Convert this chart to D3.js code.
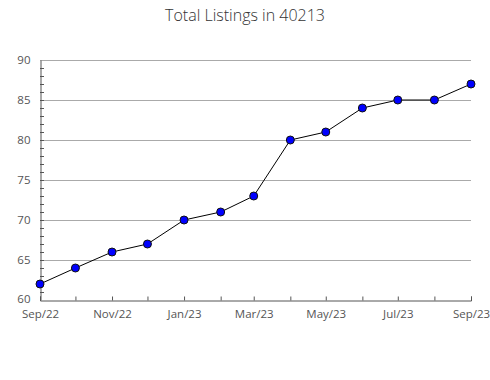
<!DOCTYPE html>
<html>
<head>
<meta charset="utf-8">
<script src="https://cdn.jsdelivr.net/npm/d3@7"></script>
<style>
	body { margin: 0; background: #fff; }
	text { font-family: "Open Sans", "DejaVu Sans", sans-serif; }
</style>
</head>
<body>
<script>
// data
var months = ["2022-09", "2022-10", "2022-11", "2022-12", "2023-01", "2023-02", "2023-03",
	"2023-04", "2023-05", "2023-06", "2023-07", "2023-08", "2023-09"];
var listings = [62, 64, 66, 67, 70, 71, 73, 80, 81, 84, 85, 85, 87];
var yTicks = [60, 65, 70, 75, 80, 85, 90];
var title = "Total Listings in 40213";

var parse = d3.timeParse("%Y-%m");
var data = months.map(function (m, i) { return { date: parse(m), value: listings[i] }; });

var width = 490, height = 380;
var margin = { top: 60, right: 19, bottom: 80, left: 40 };

var svg = d3.select("body").append("svg")
	.attr("width", width)
	.attr("height", height);

var xScale = d3.scaleTime()
	.domain(d3.extent(data, function (d) { return d.date; }))
	.range([margin.left, width - margin.right]);

var yScale = d3.scaleLinear()
	.domain([60, 90])
	.range([height - margin.bottom, margin.top]);

// title
svg.append("text")
	.attr("x", 245)
	.attr("y", 21)
	.attr("text-anchor", "middle")
	.attr("font-size", "16px")
	.attr("font-weight", 300)
	.attr("fill", "#333")
	.text(title);

// gridlines
svg.append("g")
	.selectAll("line")
	.data(yTicks.slice(1))
	.enter()
	.append("line")
	.attr("x1", margin.left)
	.attr("x2", width - margin.right)
	.attr("y1", function (d) { return Math.round(yScale(d)) + 0.5; })
	.attr("y2", function (d) { return Math.round(yScale(d)) + 0.5; })
	.attr("stroke", "#aaa");

// y minor ticks, every unit
svg.append("g")
	.selectAll("line")
	.data(d3.range(61, 90))
	.enter()
	.append("line")
	.attr("x1", margin.left)
	.attr("x2", margin.left + 4)
	.attr("y1", function (d) { return Math.round(yScale(d)) + 0.5; })
	.attr("y2", function (d) { return Math.round(yScale(d)) + 0.5; })
	.attr("stroke", "#555");

// y axis
var yAxis = svg.append("g")
	.attr("transform", "translate(" + (margin.left + 0.5) + ",0)")
	.call(d3.axisLeft(yScale).tickValues(yTicks).tickSize(0).tickPadding(10));
yAxis.select(".domain").attr("stroke", "#555");
yAxis.selectAll("text")
	.attr("font-size", "11.5px")
	.attr("fill", "#555")
	.attr("font-family", "Open Sans, sans-serif");
// bottom label sits a little high so it clears the month labels
yAxis.selectAll(".tick text").filter(function (d) { return d === 60; }).attr("dy", "0.2em");

// x axis, ticks pointing inward
var xAxis = svg.append("g")
	.attr("transform", "translate(0," + (height - margin.bottom + 0.5) + ")")
	.call(d3.axisBottom(xScale)
		.tickValues(data.map(function (d) { return d.date; }))
		.tickSize(-4)
		.tickPadding(9)
		.tickFormat(function (d, i) { return i % 2 === 0 ? d3.timeFormat("%b/%y")(d) : ""; }));
xAxis.select(".domain").attr("stroke", "#555");
xAxis.selectAll(".tick line").attr("stroke", "#555");
xAxis.selectAll("text")
	.attr("font-size", "11.5px")
	.attr("fill", "#555")
	.attr("font-family", "Open Sans, sans-serif");

// line
var line = d3.line()
	.x(function (d) { return xScale(d.date); })
	.y(function (d) { return yScale(d.value); });

svg.append("path")
	.datum(data)
	.attr("d", line)
	.attr("fill", "none")
	.attr("stroke", "#000")
	.attr("stroke-width", 1);

// markers
svg.selectAll(".dot")
	.data(data)
	.enter()
	.append("circle")
	.attr("class", "dot")
	.attr("cx", function (d) { return xScale(d.date); })
	.attr("cy", function (d) { return yScale(d.value); })
	.attr("r", 4)
	.attr("fill", "#0000ff")
	.attr("stroke", "#111")
	.attr("stroke-width", 1);
</script>
</body>
</html>
